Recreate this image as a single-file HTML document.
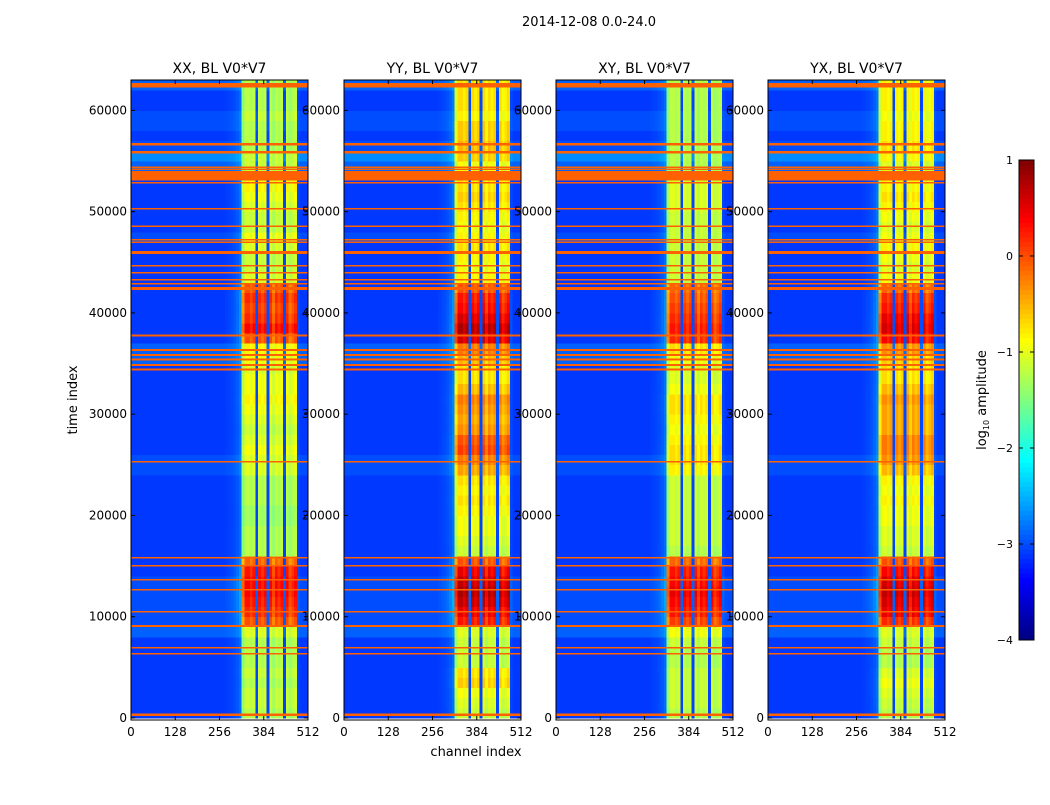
<!DOCTYPE html>
<html><head><meta charset="utf-8">
<style>
html,body{margin:0;padding:0;background:#fff;}
svg text{font-family:"DejaVu Sans","Liberation Sans",sans-serif;fill:#000;}
</style></head>
<body>
<svg id="fig" width="1050" height="800" viewBox="0 0 1050 800" xmlns="http://www.w3.org/2000/svg">
<rect x="0" y="0" width="1050" height="800" fill="#fff"/>
<text x="589" y="26" font-size="13" text-anchor="middle">2014-12-08 0.0-24.0</text>
<text transform="translate(77,400) rotate(-90)" font-size="13" text-anchor="middle">time index</text>
<text x="476" y="756" font-size="13" text-anchor="middle">channel index</text>
<g id="panels"></g>
<g id="cbar"></g>
<text transform="translate(986,400) rotate(-90)" font-size="13" text-anchor="middle">log<tspan font-size="8" dy="3">10</tspan><tspan dy="-3"> amplitude</tspan></text>
</svg>
<script>
// ---- data ----
const panelTitles = ["XX, BL V0*V7","YY, BL V0*V7","XY, BL V0*V7","YX, BL V0*V7"];
const timeBinSize = 1000;
const chanBinSize = 8;
const xTicks = [0,128,256,384,512];
const yTicks = [0,10000,20000,30000,40000,50000,60000];
const cbarTicks = [1,0,-1,-2,-3,-4];
const bandXX = [-1.2,-1.1,-1.1,-1.2,-1.1,-1.2,-1.2,-1.2,-1.0, 0.0,0.2,0.3,0.4,0.4,0.3,-0.1, -1.2,-1.2,-1.2,-1.3,-1.3,-1.2,-1.2,-1.2, -1.0,-1.0,-0.9,-1.0,-1.1,-1.0,-0.9,-0.8,-0.9,-0.9, -1.0,-0.9,-0.8, 0.0,0.4,0.2,0.1,0.2,0.0, -1.0,-1.1,-1.1,-1.0,-0.9,-1.1,-1.1,-1.0,-0.9,-0.8, -0.8,-1.1,-1.1,-1.2,-1.2,-1.2,-1.1,-1.2,-1.2,-1.2];
const bandYY = [-1.1,-1.0,-0.9,-0.6,-0.7,-1.1,-1.1,-1.1,-1.0, 0.3,0.5,0.7,0.8,0.7,0.5,0.0, -1.1,-1.0,-0.9,-0.9,-0.8,-0.7,-0.8,-0.7, -0.4,-0.2,0.1,0.0,-0.3,-0.4,-0.3,-0.2,-0.5,-0.7, -0.7,-0.5,-0.2, 0.6,0.8,0.6,0.4,0.3,0.0, -0.8,-0.9,-0.8,-0.7,-0.8,-0.9,-0.8,-0.7,-0.6,-0.7, -0.7,-0.9,-0.6,-0.5,-0.6,-0.6,-0.8,-0.7,-0.7,-0.7];
const bandXY = [-1.2,-1.1,-1.1,-1.1,-1.1,-1.2,-1.2,-1.1,-0.9, 0.1,0.3,0.4,0.5,0.4,0.3,-0.1, -1.2,-1.1,-1.1,-1.1,-1.1,-1.1,-1.1,-1.1, -0.8,-0.7,-0.7,-0.8,-0.9,-0.8,-0.7,-0.7,-0.9,-1.0, -1.0,-0.9,-0.7, 0.2,0.3,0.2,0.1,0.0,-0.1, -1.1,-1.1,-1.1,-1.1,-1.1,-1.1,-1.1,-1.0,-1.0,-1.0, -1.0,-1.2,-1.2,-1.2,-1.2,-1.2,-1.2,-1.2,-1.2,-1.2];
const bandYX = [-1.2,-1.1,-1.0,-0.9,-1.0,-1.2,-1.2,-1.1,-1.0, 0.2,0.5,0.6,0.7,0.6,0.4,0.0, -1.1,-1.0,-1.0,-0.9,-0.9,-0.8,-0.9,-0.8, -0.5,-0.3,-0.2,-0.2,-0.4,-0.4,-0.4,-0.3,-0.5,-0.7, -0.7,-0.6,-0.3, 0.4,0.6,0.5,0.3,0.2,-0.1, -0.9,-1.0,-0.9,-0.8,-0.9,-1.0,-0.9,-0.8,-0.7,-0.8, -0.8,-1.0,-0.8,-0.7,-0.8,-0.8,-0.9,-0.8,-0.8,-0.8];
const bgLevel = [-3.1,-3.1,-3.1,-3.1,-3.1,-3.1,-3.1,-3.1,-2.9,-3.0,-3.0,-3.0,-3.0,-3.0,-3.1,-3.1,-3.1,-3.1,-3.1,-3.1,-3.1,-3.1,-3.1,-3.1,-3.0,-3.0,-3.1,-3.1,-3.1,-3.1,-3.1,-3.1,-3.1,-3.1,-3.1,-2.9,-2.9,-3.1,-3.1,-3.1,-3.1,-3.1,-3.1,-3.1,-3.1,-3.1,-3.1,-3.0,-3.1,-3.1,-3.1,-3.1,-3.1,-3.1,-2.9,-2.7,-3.0,-3.1,-3.0,-3.0,-3.1,-3.1,-2.9];
const chanGain = [0,0,0,0,0,0,0,0,0,0,0,0,0,0,0,0,0,0,0,0,0,0,0,0,0,0,0,0,0,0,0,0,0,0,0.01,0.02,0.03,0.05,0.08,0.13,0.85,1,1,0.95,1,0.03,1,0.95,1,0.03,1,0.9,1,0.95,1,0.03,1,0.9,0.95,1,0.03,0,0,0];
const flagTimes = [62500,56670,55880,54400,54200,53550,52870,50300,48550,47230,46970,45950,44660,43970,43280,42890,42420,37750,36360,35860,35380,34880,34390,25300,15810,15020,13640,12650,10470,9090,6920,6320,300];
const flagWidths = [450,250,250,120,120,900,150,120,120,120,120,300,150,150,150,150,300,200,200,200,200,200,200,150,150,150,150,150,150,200,150,150,250];
const flagLevel = -0.1;
const bandSets = [bandXX,bandYY,bandXY,bandYX];

// ---- scales ----
const panelLefts = [131,344,556,768], pw = 177, plotTop = 80, plotBottom = 720;
const tMin = -200, tMax = 63000, chMax = 512;
const vMin = -4, vMax = 1;
function yScale(t){return plotBottom - (t - tMin)/(tMax - tMin)*(plotBottom-plotTop);}
function xScale(left,ch){return left + ch/chMax*pw;}
function jet(v){
  let x = (v - vMin)/(vMax - vMin); x = Math.max(0,Math.min(1,x));
  const c = f=>Math.round(255*Math.max(0,Math.min(1,f)));
  return `rgb(${c(1.5-Math.abs(4*x-3))},${c(1.5-Math.abs(4*x-2))},${c(1.5-Math.abs(4*x-1))})`;
}
const NS = "http://www.w3.org/2000/svg";
function mk(tag,attrs,parent){const e=document.createElementNS(NS,tag);for(const k in attrs)e.setAttribute(k,attrs[k]);parent.appendChild(e);return e;}

const panelsG = document.getElementById('panels');
panelLefts.forEach((left,p)=>{
  const g = mk('g',{},panelsG);
  
  
  const clip = mk('clipPath',{id:'clip'+p},g);
  mk('rect',{x:left,y:plotTop,width:pw,height:plotBottom-plotTop},clip);
  const hm = mk('g',{'clip-path':'url(#clip'+p+')','shape-rendering':'crispEdges'},g);
  
  
  const band = bandSets[p];
  for(let i=0;i<band.length;i++){
    const t0=i*timeBinSize, t1=t0+timeBinSize;
    const y0=yScale(t1), y1=yScale(t0);
    for(let j=0;j<chanGain.length;j++){
      const v = bgLevel[i] + chanGain[j]*(band[i]-bgLevel[i]);
      const x0=xScale(left,j*chanBinSize), x1=xScale(left,(j+1)*chanBinSize);
      const r = mk('rect',{x:x0.toFixed(2),y:y0.toFixed(2),width:(x1-x0+0.4).toFixed(2),height:(y1-y0+0.4).toFixed(2),fill:jet(v)},hm);
      
      
    }
  }
  flagTimes.forEach((t,k)=>{
    const ya=yScale(t+flagWidths[k]/2), yb=yScale(t-flagWidths[k]/2);
    const r = mk('rect',{x:left,y:ya.toFixed(2),width:pw,height:Math.max(1.5,yb-ya).toFixed(2),fill:jet(flagLevel)},hm);
    
    
  });
  const frame = mk('rect',{x:left,y:plotTop,width:pw,height:plotBottom-plotTop,fill:'none',stroke:'#000','stroke-width':1},g);
  
  
  const title = mk('text',{x:left+pw/2,y:plotTop-7,'font-size':14,'text-anchor':'middle'},g);
  title.textContent = panelTitles[p];
  
  
  xTicks.forEach(v=>{
    const x=xScale(left,v);
    mk('line',{x1:x,x2:x,y1:plotBottom,y2:plotBottom-4,stroke:'#000'},g);
    mk('line',{x1:x,x2:x,y1:plotTop,y2:plotTop+4,stroke:'#000'},g);
    const tx = mk('text',{x:x,y:plotBottom+16,'font-size':12,'text-anchor':'middle'},g);
    tx.textContent = v;
    
    
  });
  yTicks.forEach(v=>{
    const y=yScale(v);
    mk('line',{x1:left,x2:left+4,y1:y,y2:y,stroke:'#000'},g);
    mk('line',{x1:left+pw,x2:left+pw-4,y1:y,y2:y,stroke:'#000'},g);
    const ty = mk('text',{x:left-4,y:y+4,'font-size':12,'text-anchor':'end'},g);
    ty.textContent = v;
    
    
  });
});

// ---- colorbar ----
const cb = document.getElementById('cbar');
const cbX = 1019, cbW = 15, cbTop = 160, cbBot = 640;
function cbY(v){return cbBot - (v - vMin)/(vMax - vMin)*(cbBot-cbTop);}
const steps = 100;
for(let s=0;s<steps;s++){
  const v0 = vMin + s*(vMax-vMin)/steps, v1 = vMin + (s+1)*(vMax-vMin)/steps;
  const r = mk('rect',{x:cbX,y:cbY(v1).toFixed(2),width:cbW,height:(cbY(v0)-cbY(v1)+0.5).toFixed(2),fill:jet((v0+v1)/2),'shape-rendering':'crispEdges'},cb);
  
  
}
mk('rect',{x:cbX,y:cbTop,width:cbW,height:cbBot-cbTop,fill:'none',stroke:'#000'},cb);
cbarTicks.forEach(v=>{
  const y=cbY(v);
  mk('line',{x1:cbX,x2:cbX+4,y1:y,y2:y,stroke:'#000'},cb);
  mk('line',{x1:cbX+cbW,x2:cbX+cbW-4,y1:y,y2:y,stroke:'#000'},cb);
  const t = mk('text',{x:cbX-6,y:y+4,'font-size':11,'text-anchor':'end'},cb);
  t.textContent = v<0 ? '\u2212'+Math.abs(v) : String(v);
  
  
});
</script>
</body></html>
